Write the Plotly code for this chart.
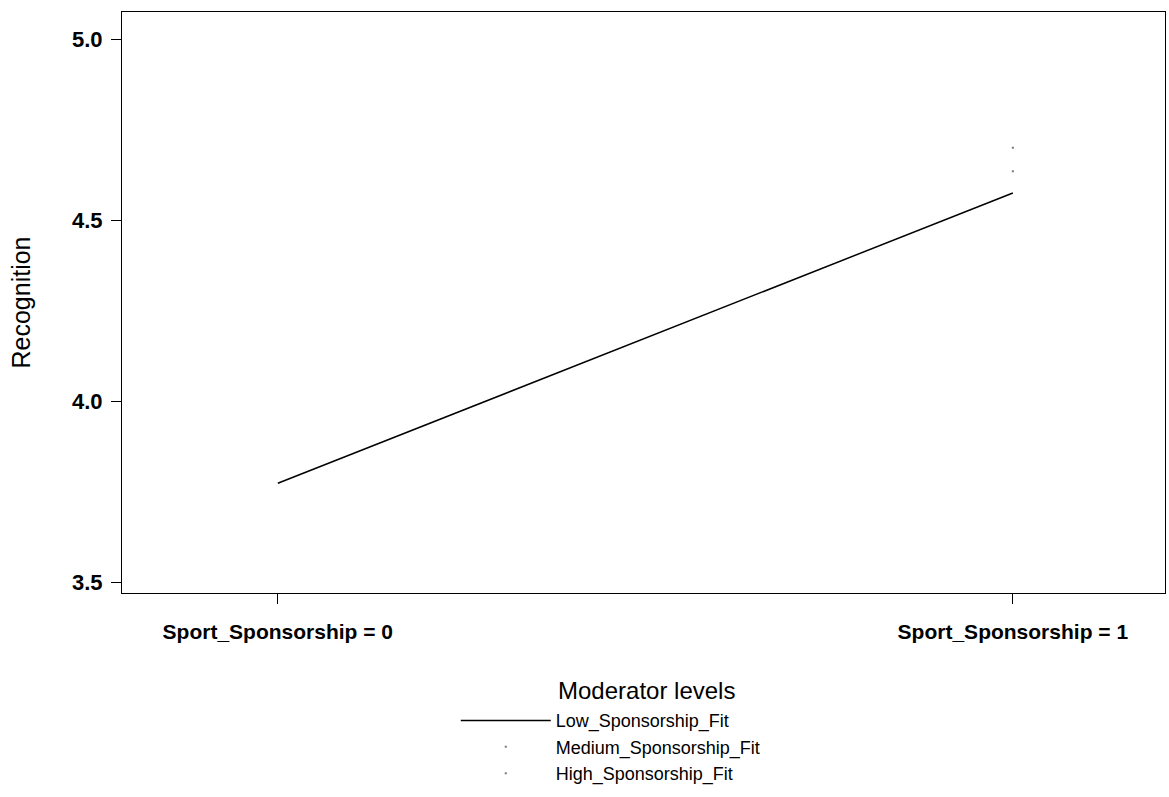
import plotly.graph_objects as go

# Simple-slopes data: predicted Recognition at each sponsorship condition
categories = ["Sport_Sponsorship = 0", "Sport_Sponsorship = 1"]
x_pos = [0, 1]
low_fit = [3.773, 4.575]
medium_fit = [None, 4.635]
high_fit = [None, 4.70]

series_names = ["Low_Sponsorship_Fit", "Medium_Sponsorship_Fit", "High_Sponsorship_Fit"]
legend_heading = "Moderator levels"

fig = go.Figure()
fig.add_trace(go.Scatter(
    x=x_pos, y=low_fit, name=series_names[0], mode="lines",
    line=dict(color="black", width=1.5),
))
for name, vals in [(series_names[1], medium_fit), (series_names[2], high_fit)]:
    fig.add_trace(go.Scatter(
        x=x_pos, y=vals, name=name, mode="lines+markers",
        line=dict(color="white", width=1.5),
        marker=dict(color="#777777", size=2, symbol="square"),
    ))

font_family = "Liberation Sans, Arial, sans-serif"

# Legend heading placed above the legend entries
fig.add_annotation(
    text=legend_heading, xref="paper", yref="paper",
    x=0.503, y=-0.167, xanchor="center", yanchor="middle",
    showarrow=False, font=dict(size=24, family=font_family, color="black"),
)

fig.update_layout(
    width=1169, height=797,
    margin=dict(l=122, r=4, t=12, b=204, autoexpand=False),
    paper_bgcolor="white", plot_bgcolor="white",
    font=dict(family=font_family, color="black"),
    showlegend=True,
    legend=dict(
        orientation="v",
        x=0.320, xanchor="left", y=-0.188, yanchor="top",
        font=dict(size=18, family=font_family),
        itemwidth=90, tracegroupgap=0,
        bgcolor="rgba(0,0,0,0)",
    ),
    xaxis=dict(
        range=[-0.212, 1.207],
        tickmode="array", tickvals=x_pos, ticktext=categories,
        ticks="outside", ticklen=10, tickwidth=1, tickcolor="black",
        tickfont=dict(size=21, family=font_family, weight="bold"),
        ticklabelstandoff=10,
        showline=True, linecolor="black", linewidth=1, mirror=True,
        showgrid=False, zeroline=False,
    ),
    yaxis=dict(
        range=[3.47, 5.075],
        tickvals=[3.5, 4.0, 4.5, 5.0], ticktext=["3.5", "4.0", "4.5", "5.0"],
        ticks="outside", ticklen=10, tickwidth=1, tickcolor="black",
        tickfont=dict(size=22, family=font_family, weight="bold"),
        ticklabelstandoff=4,
        showline=True, linecolor="black", linewidth=1, mirror=True,
        showgrid=False, zeroline=False,
        title=dict(text="Recognition", font=dict(size=25, family=font_family), standoff=34),
    ),
)

fig.write_html("out.html")
